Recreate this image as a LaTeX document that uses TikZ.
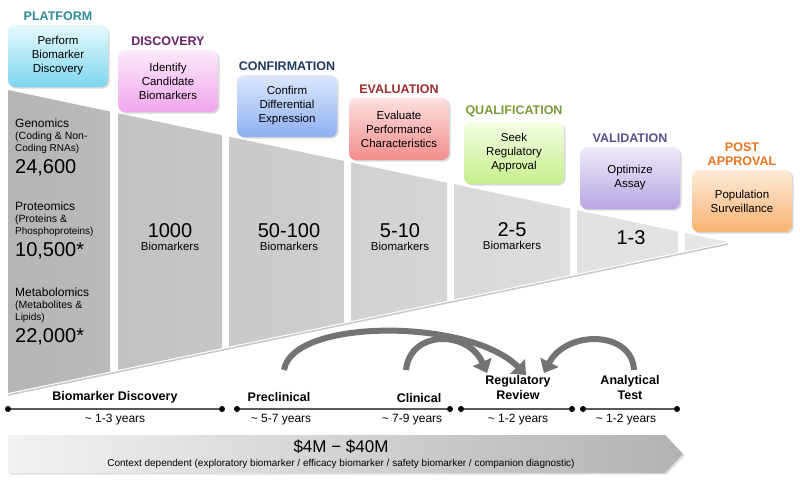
\documentclass[tikz,border=0pt]{standalone}
\usepackage{fontspec}
\setmainfont{Liberation Sans}
\usepackage{xcolor}
\usetikzlibrary{positioning, arrows.meta, shadows}
\definecolor{tealhead}{HTML}{2E8B9A}
\definecolor{plumhead}{HTML}{6B1F6E}
\definecolor{navyhead}{HTML}{1F3A60}
\definecolor{redhead}{HTML}{9B2D2D}
\definecolor{olivehead}{HTML}{7A9A3A}
\definecolor{violethead}{HTML}{5B4E8C}
\definecolor{orangehead}{HTML}{E9731E}
\newcommand{\fsz}[2]{\fontsize{#1}{#2}\selectfont}

\begin{document}
\begin{tikzpicture}[x=1pt, y=-1pt, >=Stealth,
  stage/.style={rounded corners=7pt, minimum width=100pt, minimum height=62pt, text width=92pt,
    align=center, font=\fsz{11.5}{14}, drop shadow={opacity=0.3, shadow xshift=1.5pt, shadow yshift=-1.5pt}},
  head/.style={font=\fsz{12.5}{14}\bfseries, align=center},
  big/.style={font=\fsz{20}{22}},
  small/.style={font=\fsz{11.5}{13}},
  phase/.style={font=\fsz{12.5}{15}\bfseries, align=center},
  span/.style={font=\fsz{12}{14}},
  dot/.style={circle, fill=black, inner sep=0pt, minimum size=6pt},
  tline/.style={draw=black!65, line width=1.5pt},
  loop arrow/.style={line width=6pt, draw=black!55, -{Triangle[width=20pt,length=12pt]}}]
\useasboundingbox (0,0) rectangle (800,485);

% funnel
\begin{scope}
  \clip (8,90) -- (728,242) -- (8,393) -- cycle;
  \foreach \xa/\xb/\ca/\cb in {8/110/29/27, 118/222/24/22, 229/344/21/19, 351/447/18/16,
                              454/570/15/13, 577/678/12/11, 685/730/10/9}
    \shade[left color=black!\ca, right color=black!\cb] (\xa,80) rectangle (\xb,400);
\end{scope}
\draw[black!22, line width=1.5pt] (8,395) -- (728,244);

% stage boxes
\node[stage, top color={rgb,255:red,230;green,250;blue,253}, bottom color={rgb,255:red,125;green,214;blue,238}] (plat) at (58,56) {Perform\\Biomarker\\Discovery};
\node[stage, top color={rgb,255:red,252;green,234;blue,251}, bottom color={rgb,255:red,240;green,166;blue,236}] (disc) at (168,81) {Identify\\Candidate\\Biomarkers};
\node[stage, top color={rgb,255:red,221;green,232;blue,252}, bottom color={rgb,255:red,141;green,176;blue,242}] (conf) at (287,106) {Confirm\\Differential\\Expression};
\node[stage, top color={rgb,255:red,253;green,224;blue,224}, bottom color={rgb,255:red,242;green,140;blue,140}] (eval) at (399,129) {Evaluate\\Performance\\Characteristics};
\node[stage, top color={rgb,255:red,244;green,253;blue,228}, bottom color={rgb,255:red,198;green,238;blue,140}] (qual) at (514,153) {Seek\\Regulatory\\Approval};
\node[stage, top color={rgb,255:red,239;green,234;blue,250}, bottom color={rgb,255:red,184;green,166;blue,226}] (vali) at (630,178) {Optimize\\Assay};
\node[stage, top color={rgb,255:red,253;green,235;blue,218}, bottom color={rgb,255:red,248;green,178;blue,112}] (post) at (742,201) {Population\\Surveillance};

\node[head, tealhead, above=1pt of plat] {PLATFORM};
\node[head, plumhead, above=1pt of disc] {DISCOVERY};
\node[head, navyhead, above=1pt of conf] {CONFIRMATION};
\node[head, redhead, above=1pt of eval] {EVALUATION};
\node[head, olivehead, above=1pt of qual] {QUALIFICATION};
\node[head, violethead, above=1pt of vali] {VALIDATION};
\node[head, orangehead, above=1pt of post] {POST\\APPROVAL};

% first column
\node[anchor=north west, align=left, inner sep=0pt] (gen) at (15,119) {\fsz{12}{14}Genomics\\\fsz{10.5}{14}(Coding \& Non-\\Coding RNAs)};
\node[big, inner sep=0pt, below=5pt of gen.south west, anchor=north west] {24,600};
\node[anchor=north west, align=left, inner sep=0pt] (prot) at (15,202) {\fsz{12}{14}Proteomics\\\fsz{10.5}{14}(Proteins \&\\Phosphoproteins)};
\node[big, inner sep=0pt, below=5pt of prot.south west, anchor=north west] {10,500*};
\node[anchor=north west, align=left, inner sep=0pt] (meta) at (15,288) {\fsz{12}{14}Metabolomics\\\fsz{10.5}{14}(Metabolites \&\\Lipids)};
\node[big, inner sep=0pt, below=5pt of meta.south west, anchor=north west] {22,000*};

% counts
\node[big] (n2) at (170,231) {1000};
\node[small, below=-3pt of n2] {Biomarkers};
\node[big] (n3) at (289,231) {50-100};
\node[small, below=-3pt of n3] {Biomarkers};
\node[big] (n4) at (400,231) {5-10};
\node[small, below=-3pt of n4] {Biomarkers};
\node[big] (n5) at (512,230) {2-5};
\node[small, below=-3pt of n5] {Biomarkers};
\node[big] (n6) at (631,238) {1-3};

% timeline
\node[dot] (d1) at (8,409) {};
\node[dot] (d2) at (222,409) {};
\node[dot] (d3) at (237,409) {};
\node[dot] (d4) at (450,409) {};
\node[dot] (d5) at (461,409) {};
\node[dot] (d6) at (572,409) {};
\node[dot] (d7) at (583,409) {};
\node[dot] (d8) at (677,409) {};
\draw[tline] (d1) -- (d2);
\draw[tline] (d3) -- (d4);
\draw[tline] (d5) -- (d6);
\draw[tline] (d7) -- (d8);

\node[phase] (bd) at (115,397) {Biomarker Discovery};
\node[phase] (pre) at (279,397) {Preclinical};
\node[phase] (cli) at (419,398) {Clinical};
\node[phase] (reg) at (518,388) {Regulatory\\Review};
\node[phase] (ana) at (630,388) {Analytical\\Test};

\node[span] at (115,420) {\textasciitilde{} 1-3 years};
\node[span] at (281,420) {\textasciitilde{} 5-7 years};
\node[span] at (412,420) {\textasciitilde{} 7-9 years};
\node[span] at (518,420) {\textasciitilde{} 1-2 years};
\node[span] at (626,420) {\textasciitilde{} 1-2 years};

% loop arrows
\coordinate (a1) at (284,370);
\coordinate (a2) at (406,370);
\coordinate (a3) at (634,370);
\coordinate (r1) at (526,375);
\coordinate (r2) at (487,373);
\coordinate (r3) at (544,373);
\draw[loop arrow] (a1) .. controls (292,318) and (470,318) .. (r1);
\draw[loop arrow] (a2) .. controls (410,330) and (468,330) .. (r2);
\draw[loop arrow] (a3) .. controls (632,330) and (566,330) .. (r3);

% cost band
\shade[left color=black!5, right color=black!30, drop shadow={opacity=0.25, shadow xshift=1.5pt, shadow yshift=-1.5pt}]
  (8,435) -- (665,435) -- (683,454) -- (665,473) -- (8,473) -- cycle;
\node[font=\fsz{17}{19}] (cost) at (341,447) {\$4M − \$40M};
\node[font=\fsz{10}{12}, below=-2pt of cost] {Context dependent (exploratory biomarker / efficacy biomarker / safety biomarker / companion diagnostic)};
\end{tikzpicture}
\end{document}
